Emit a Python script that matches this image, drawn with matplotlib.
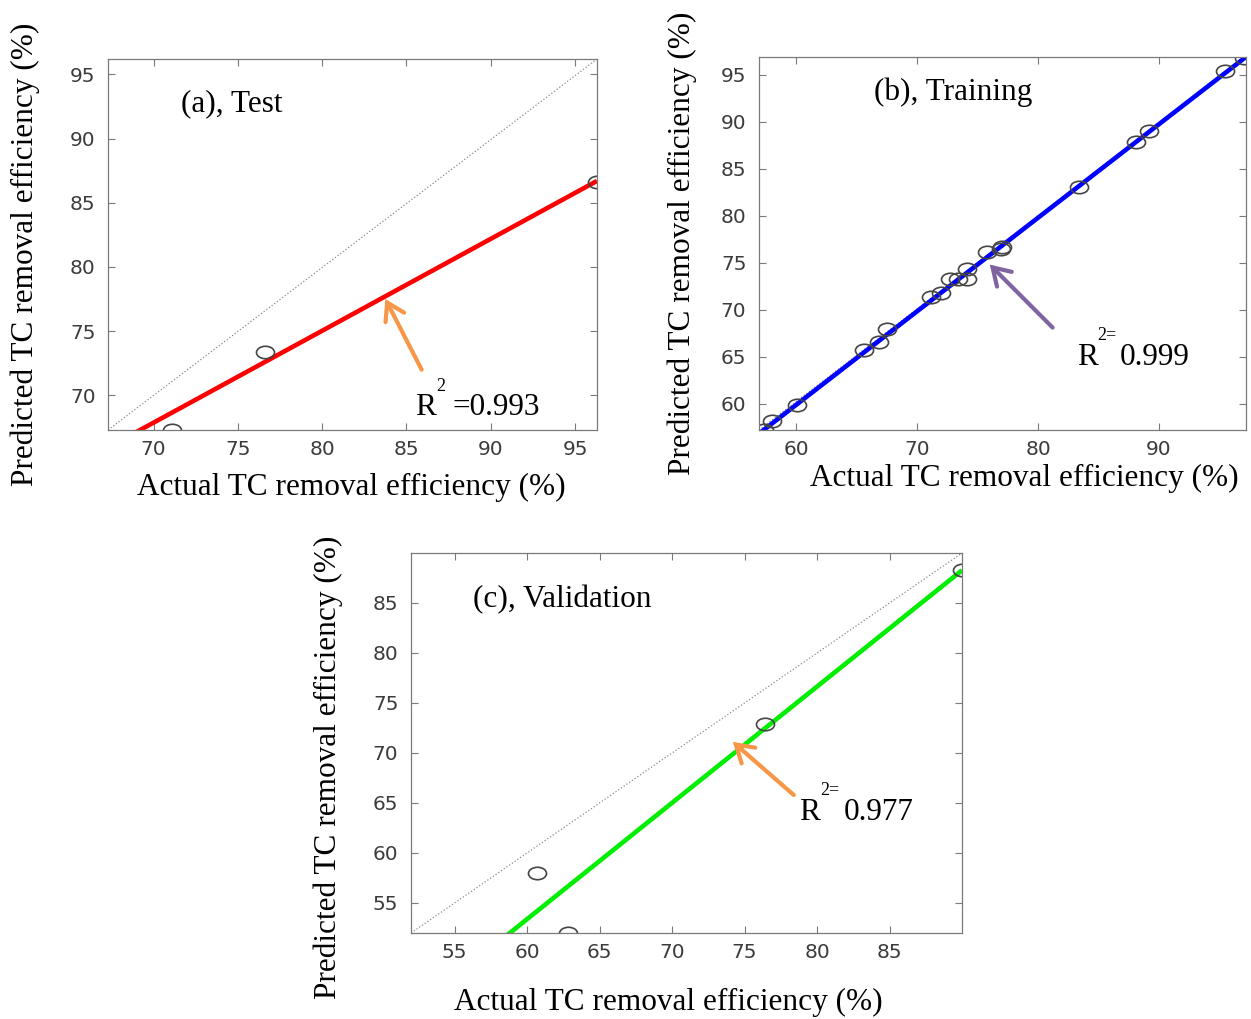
"""
Predicted vs. actual TC removal efficiency for the test, training and
validation subsets, with the fitted regression line, the y = x reference
and the R^2 of each fit.
"""
import numpy as np
import matplotlib
matplotlib.use("Agg")
import matplotlib.pyplot as plt
from matplotlib.path import Path
from matplotlib.transforms import Affine2D

W, H = 1251, 1019

# ---- data (actual vs predicted, %) ----
test_actual = [71.1, 76.6, 96.3]
test_pred = [67.3, 73.35, 86.6]
train_actual = [57.3, 58.0, 60.05, 65.6, 66.8, 67.5, 71.1, 72.0, 72.7, 73.4,
                74.1, 74.1, 75.75, 76.9, 77.0, 83.35, 88.1, 89.2, 95.5, 97.0]
train_pred = [57.2, 58.2, 59.9, 65.7, 66.6, 67.9, 71.4, 71.8, 73.3, 73.3,
              73.3, 74.3, 76.1, 76.5, 76.7, 83.05, 87.9, 89.0, 95.4, 96.8]
val_actual = [60.7, 62.8, 76.4, 90.0]
val_pred = [58.0, 52.0, 72.9, 88.3]

# fitted line: predicted = slope * actual + intercept
test_fit = (0.716, 17.75)
train_fit = (0.995, 0.2)
val_fit = (1.163, -16.4)
r2 = {"test": "0.993", "train": "0.999", "val": "0.977"}

SERIF = "Liberation Serif"
FS = 22.5
XLAB = "Actual TC removal efficiency (%)"
YLAB = "Predicted TC removal efficiency (%)"
ARROW = "->,head_length=1.2,head_width=0.75"

# slightly wide open circle marker
ELLIPSE = Path.unit_circle().transformed(Affine2D().scale(1.45, 1.0))


def px(x, y):
    return x / W, 1 - y / H


def panel(fig, box, actual, pred, fit, color, xlim, ylim, xticks, yticks):
    l, t, r, b = box
    ax = fig.add_axes([l / W, 1 - b / H, (r - l) / W, (b - t) / H])
    ax.plot(xlim, ylim, ls=":", color="#8c8c8c", lw=0.9)
    xs = np.array(xlim)
    ax.plot(xs, fit[0] * xs + fit[1], color=color, lw=3.3, solid_capstyle="butt")
    ax.plot(actual, pred, ls="none", marker=ELLIPSE, ms=13, mfc="none",
            mec="#454545", mew=1.2)
    ax.set_xlim(xlim); ax.set_ylim(ylim)
    ax.set_xticks(xticks); ax.set_yticks(yticks)
    ax.tick_params(direction="in", top=True, right=True, length=5, width=0.8,
                   color="#7a7a7a", labelsize=14.5, labelcolor="#3c3c3c")
    ax.tick_params(axis="y", pad=9); ax.tick_params(axis="x", pad=7)
    for lab in ax.get_xticklabels() + ax.get_yticklabels():
        lab.set_family("DejaVu Sans")
    for s in ax.spines.values():
        s.set_color("#7a7a7a"); s.set_linewidth(0.9)
    return ax


def arrow(ax, head, tail, color):
    ax.annotate("", xy=head, xytext=tail,
                arrowprops=dict(arrowstyle=ARROW, lw=3, color=color,
                                shrinkA=0, shrinkB=0, joinstyle="miter"))


def r2_label(fig, x, base, sup, value, sup_dx, val_dx, sup_dy):
    fig.text(*px(x, base), "R", family=SERIF, fontsize=FS, va="baseline")
    fig.text(*px(x + sup_dx, base - sup_dy), sup, family=SERIF, fontsize=13, va="baseline")
    fig.text(*px(x + val_dx, base), value, family=SERIF, fontsize=FS, va="baseline")


def main():
    fig = plt.figure(figsize=(W / 100, H / 100), dpi=100)

    # (a) test
    a = panel(fig, (108, 59, 597, 430), test_actual, test_pred, test_fit, "#ff0000",
              (67.3, 96.3), (67.3, 96.2), range(70, 96, 5), range(70, 96, 5))
    arrow(a, (83.75, 77.5), (85.9, 72.0), "#f79646")
    fig.text(*px(232, 104), "(a), Test", family=SERIF, fontsize=FS, ha="center", va="center")
    r2_label(fig, 415, 415, "2", "=" + r2["test"], 21, 37, 24)
    fig.text(*px(351, 487), XLAB, family=SERIF, fontsize=FS, ha="center", va="center")
    fig.text(*px(25, 254), YLAB, family=SERIF, fontsize=FS, ha="center", va="center",
             rotation=90)

    # (b) training
    b = panel(fig, (759, 57, 1246, 430), train_actual, train_pred, train_fit, "#0000ff",
              (56.9, 97.2), (57.2, 96.9), range(60, 91, 10), range(60, 96, 5))
    arrow(b, (76.0, 74.8), (81.2, 68.1), "#8064a2")
    fig.text(*px(953, 92), "(b), Training", family=SERIF, fontsize=FS, ha="center", va="center")
    r2_label(fig, 1077, 365, "2=", r2["train"], 20, 43, 25)
    fig.text(*px(1024, 478), XLAB, family=SERIF, fontsize=FS, ha="center", va="center")
    fig.text(*px(682, 243), YLAB, family=SERIF, fontsize=FS, ha="center", va="center",
             rotation=90)

    # (c) validation
    c = panel(fig, (411, 553, 962, 933), val_actual, val_pred, val_fit, "#00ee00",
              (52.0, 90.0), (52.0, 90.0), range(55, 86, 5), range(55, 86, 5))
    arrow(c, (74.2, 71.1), (78.4, 65.8), "#f79646")
    fig.text(*px(562, 600), "(c), Validation", family=SERIF, fontsize=FS, ha="center", va="center")
    r2_label(fig, 799, 820, "2=", r2["val"], 21, 45, 25)
    fig.text(*px(668, 1002), XLAB, family=SERIF, fontsize=FS, ha="center", va="center")
    fig.text(*px(328, 767), YLAB, family=SERIF, fontsize=FS, ha="center", va="center",
             rotation=90)

    fig.savefig("out.png", dpi=100)
    plt.close(fig)


if __name__ == "__main__":
    main()
